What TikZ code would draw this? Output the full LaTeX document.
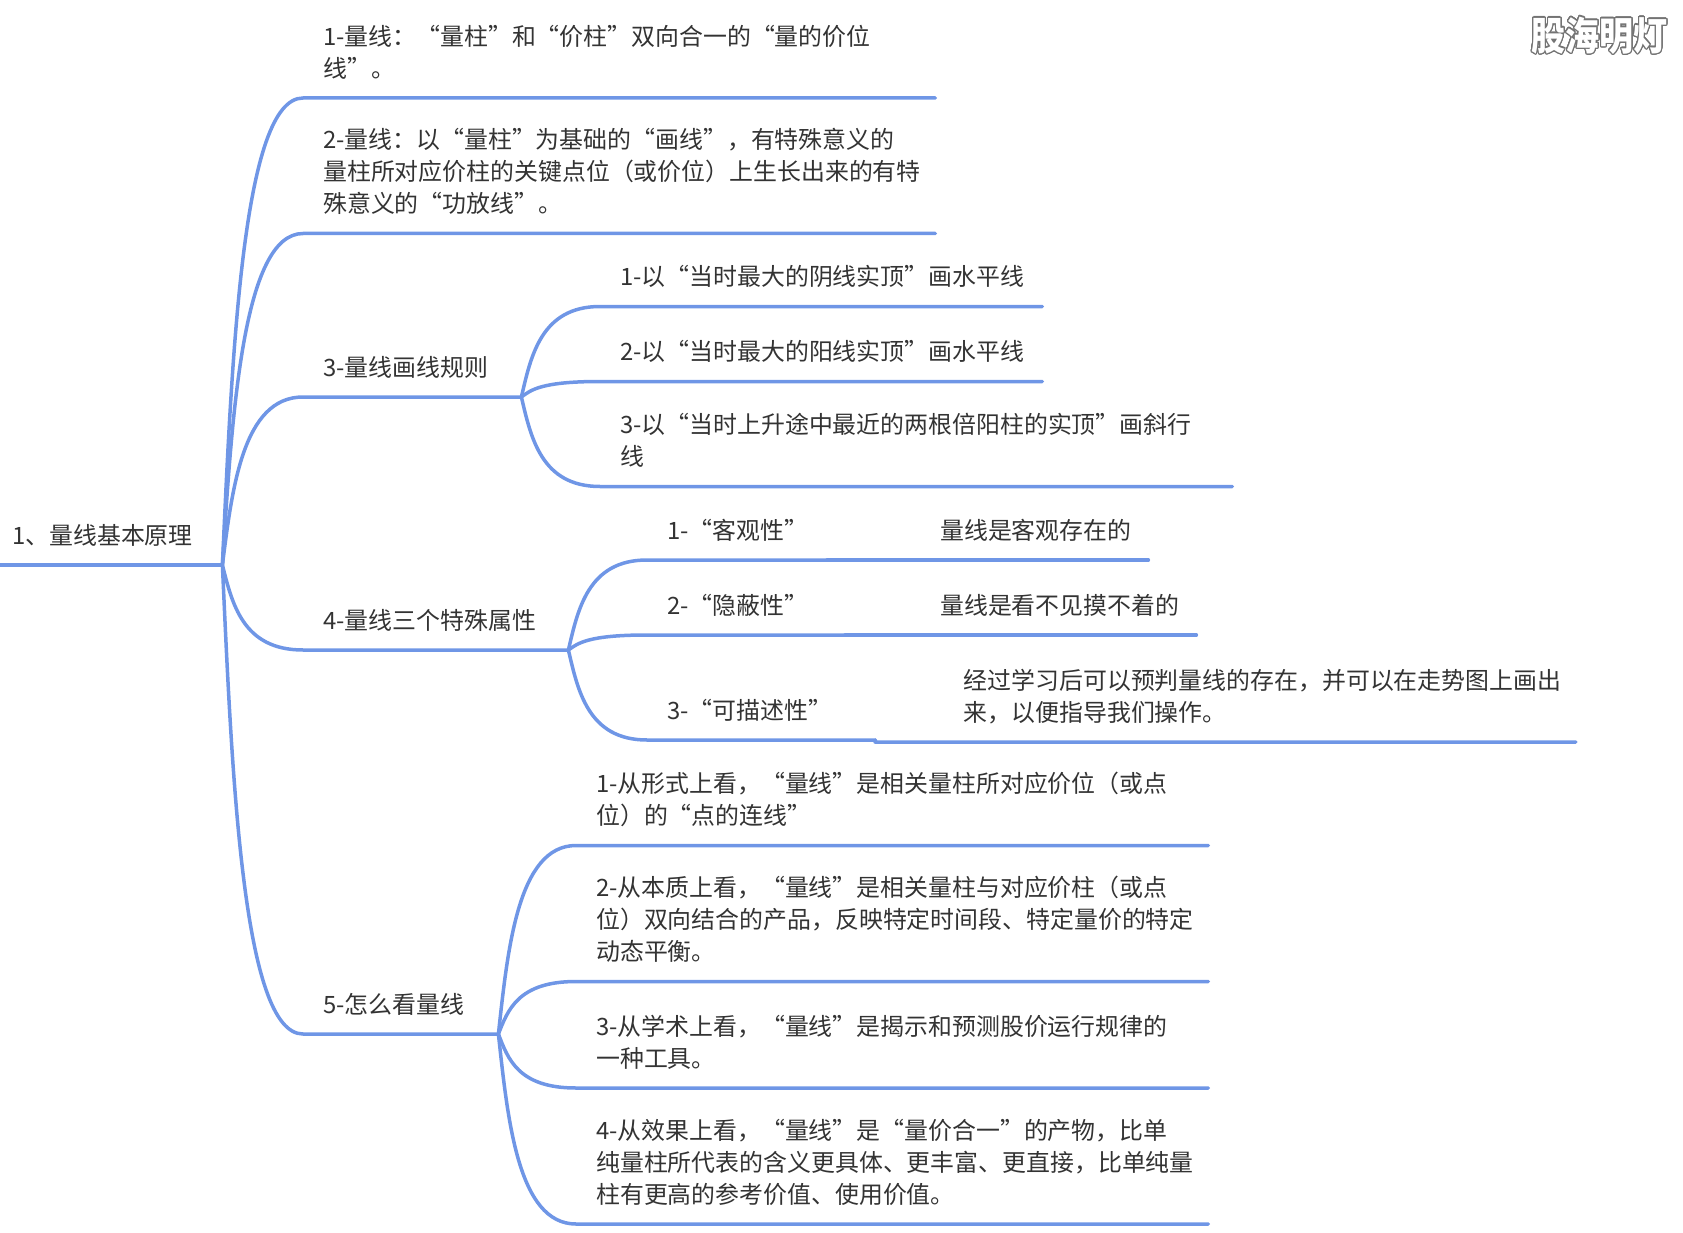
\documentclass[tikz,border=0pt]{standalone}
\usepackage{fontspec}
\usepackage{contour}
\usetikzlibrary{calc}
\setmainfont{Noto Sans CJK SC}
\definecolor{branchblue}{HTML}{6F96E6}
\definecolor{inktext}{HTML}{333333}
\contourlength{1pt}
\contournumber{32}
\tikzset{
	topic/.style 2 args={anchor=south west,rectangle,inner ysep=14.5pt,inner xsep=#2pt,
		text width={(#1-2*#2)*1pt},align=left,text=inktext,font=\fontsize{23.9}{32}\selectfont,
		execute at end node={\rule[-6pt]{0pt}{6pt}}},
	branch/.style={to path={let \p1=(\tikztostart),\p2=(\tikztotarget) in
		.. controls ({\x1+0.12*(\x2-\x1)},{\y1+0.45*(\y2-\y1)}) and ({\x1+0.25*(\x2-\x1)},\y2) .. (\p2)}},
	line/.style={draw=branchblue,line width=3.5pt,line cap=round,line join=round}
}
\begin{document}
\begin{tikzpicture}[x=1pt,y=-1pt]
	\useasboundingbox (0,0) rectangle (1683,1233);
	% root and first level
	\node (root) [topic={222}{12}] at (0,565) {1、量线基本原理};
	\node (n1) [topic={632}{20}] at (303,98) {1-量线：“量柱”和“价柱”双向合一的“量的价位\\线”。};
	\node (n2) [topic={632}{20}] at (303,233.5) {2-量线：以“量柱”为基础的“画线”，有特殊意义的\\量柱所对应价柱的关键点位（或价位）上生长出来的有特\\殊意义的“功放线”。};
	\node (n3) [topic={218}{20}] at (303,397) {3-量线画线规则};
	\node (n4) [topic={265}{20}] at (303,650) {4-量线三个特殊属性};
	\node (n5) [topic={195}{20}] at (303,1034) {5-怎么看量线};
	% children of 3
	\node (n31) [topic={442}{20}] at (600,306.5) {1-以“当时最大的阴线实顶”画水平线};
	\node (n32) [topic={442}{20}] at (600,381.5) {2-以“当时最大的阳线实顶”画水平线};
	\node (n33) [topic={632}{20}] at (600,486.5) {3-以“当时上升途中最近的两根倍阳柱的实顶”画斜行\\线};
	% children of 4
	\node (n41) [topic={180}{20}] at (647,560) {\mbox{1-“客观性”}};
	\node (n42) [topic={198}{20}] at (647,635) {\mbox{2-“隐蔽性”}};
	\node (n43) [topic={228}{20}] at (647,740) {\mbox{3-“可描述性”}};
	\node (n41a) [topic={321}{113}] at (827,560) {量线是客观存在的};
	\node (n42a) [topic={351}{95}] at (845,635) {量线是看不见摸不着的};
	\node (n43a) [topic={700.5}{88.5}] at (875,742) {经过学习后可以预判量线的存在，并可以在走势图上画出\\来，以便指导我们操作。};
	% children of 5
	\node (n51) [topic={632}{20}] at (576,845.5) {1-从形式上看，“量线”是相关量柱所对应价位（或点\\位）的“点的连线”};
	\node (n52) [topic={632}{20}] at (576,981.5) {2-从本质上看，“量线”是相关量柱与对应价柱（或点\\位）双向结合的产品，反映特定时间段、特定量价的特定\\动态平衡。};
	\node (n53) [topic={632}{20}] at (576,1088) {3-从学术上看，“量线”是揭示和预测股价运行规律的\\一种工具。};
	\node (n54) [topic={632}{20}] at (576,1224) {4-从效果上看，“量线”是“量价合一”的产物，比单\\纯量柱所代表的含义更具体、更丰富、更直接，比单纯量\\柱有更高的参考价值、使用价值。};
	% watermark
	\node (mark) [anchor=center,inner sep=0pt,yscale=1.15,transform shape,font=\bfseries\fontsize{34}{34}\selectfont] at (1599.5,36) {\contour{black!55}{\textcolor{white}{股海明灯}}};
	% branches
	\draw[line] (root.south west)--(root.south east);
	\foreach \kid in {n1,n2,n3,n4,n5}
	\draw[line] (root.south east) to[branch] (\kid.south west)--(\kid.south east);
	\foreach \kid in {n31,n32,n33}
	\draw[line] (n3.south east) to[branch] (\kid.south west)--(\kid.south east);
	\foreach \kid in {n41,n42,n43}
	\draw[line] (n4.south east) to[branch] (\kid.south west)--(\kid.south east);
	\foreach \kid in {n51,n52,n53,n54}
	\draw[line] (n5.south east) to[branch] (\kid.south west)--(\kid.south east);
	\foreach \leaf/\kid in {n41/n41a,n42/n42a,n43/n43a}
	\draw[line] (\leaf.south east)--(\kid.south west)--(\kid.south east);
\end{tikzpicture}
\end{document}
